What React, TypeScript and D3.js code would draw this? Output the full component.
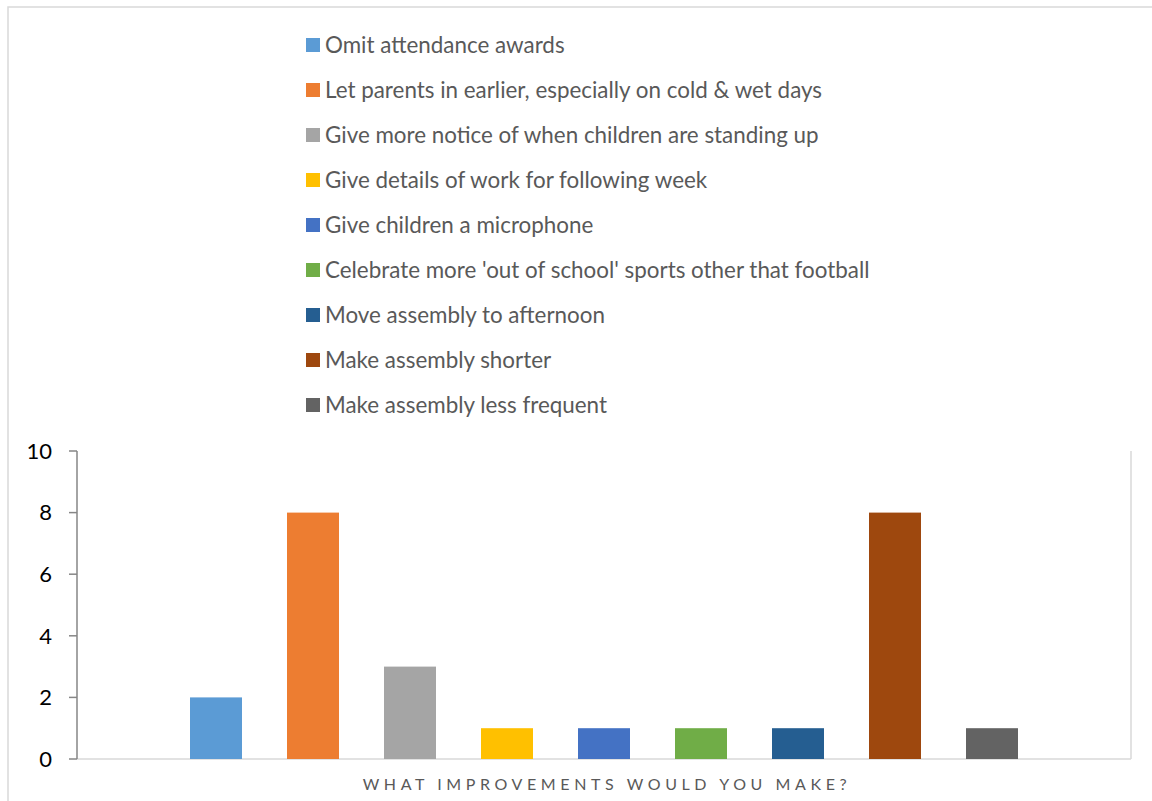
import React from "react";
import * as d3 from "d3";

const seriesNames = [
  "Omit attendance awards",
  "Let parents in earlier, especially on cold & wet days",
  "Give more notice of when children are standing up",
  "Give details of work for following week",
  "Give children a microphone",
  "Celebrate more 'out of school' sports other that football",
  "Move assembly to afternoon",
  "Make assembly shorter",
  "Make assembly less frequent",
];
const seriesValues = [2, 8, 3, 1, 1, 1, 1, 8, 1];
const seriesColors = [
  "#5B9BD5", "#ED7D31", "#A5A5A5", "#FFC000", "#4472C4",
  "#70AD47", "#255E91", "#9E480E", "#636363",
];
const yTicks = [0, 2, 4, 6, 8, 10];
const axisTitle = "WHAT IMPROVEMENTS WOULD YOU MAKE?";

const W = 1152;
const H = 801;
const plot = { left: 77, right: 1131, top: 451, bottom: 759 };
const font = "Lato, 'Open Sans', sans-serif";

export default function App() {
  const y = d3.scaleLinear().domain([0, 10]).range([plot.bottom, plot.top]);
  const x = d3
    .scaleBand<string>()
    .domain(seriesNames)
    .range([167.5, 1040.5])
    .paddingInner(0.464)
    .paddingOuter(0.232);

  return (
    <svg
      width={W}
      height={H}
      style={{ position: "absolute", left: 0, top: 0, background: "#fff" }}
    >
      {/* outer frame */}
      <rect x={8} y={7} width={W + 10} height={H + 10} fill="#fff" stroke="#d9d9d9" strokeWidth={1.5} />

      {/* legend */}
      {seriesNames.map((name, i) => {
        const cy = 45 + i * 45;
        return (
          <g key={name}>
            <rect x={306} y={cy - 7} width={14} height={14} fill={seriesColors[i]} />
            <text
              x={325}
              y={cy}
              dy="0.35em"
              fontFamily={font}
              fontSize={22.4}
              fill="#595959"
            >
              {name}
            </text>
          </g>
        );
      })}

      {/* right border of plot */}
      <line x1={plot.right} x2={plot.right} y1={plot.top} y2={plot.bottom} stroke="#d9d9d9" strokeWidth={1.5} />
      {/* x baseline */}
      <line x1={plot.left} x2={plot.right} y1={plot.bottom} y2={plot.bottom} stroke="#d9d9d9" strokeWidth={1.5} />

      {/* bars */}
      {seriesNames.map((name, i) => (
        <rect
          key={name}
          x={x(name)}
          y={y(seriesValues[i])}
          width={x.bandwidth()}
          height={y(0) - y(seriesValues[i])}
          fill={seriesColors[i]}
        />
      ))}

      {/* y axis */}
      <line x1={plot.left} x2={plot.left} y1={plot.top} y2={plot.bottom} stroke="#868686" strokeWidth={1.5} />
      {yTicks.map((t) => (
        <g key={t}>
          <line x1={plot.left - 8} x2={plot.left} y1={y(t)} y2={y(t)} stroke="#868686" strokeWidth={1.5} />
          <text
            x={52}
            y={y(t)}
            dy="0.35em"
            textAnchor="end"
            fontFamily={font}
            fontSize={22}
            fill="#000"
          >
            {t}
          </text>
        </g>
      ))}

      {/* axis title */}
      <text
        x={(plot.left + plot.right) / 2 + 3}
        y={784}
        dy="0.35em"
        textAnchor="middle"
        fontFamily={font}
        fontSize={16}
        letterSpacing={4.6}
        fill="#595959"
      >
        {axisTitle}
      </text>
    </svg>
  );
}
